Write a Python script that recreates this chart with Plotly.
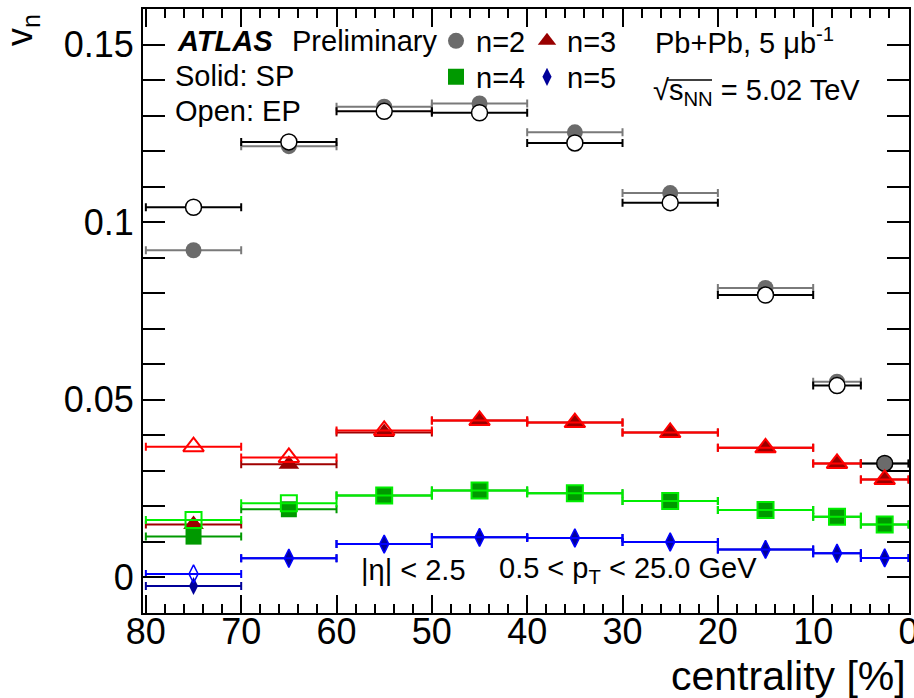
import plotly.graph_objects as go

# Centrality bins (bin centres and half-widths, in %)
centrality = [75, 65, 55, 45, 35, 25, 15, 7.5, 2.5]
bin_half_width = [5, 5, 5, 5, 5, 5, 5, 2.5, 2.5]

# v_n from scalar-product (SP, solid) and event-plane (EP, open) methods
v2_sp = [0.0921, 0.1214, 0.1325, 0.1334, 0.1253, 0.1082, 0.0815, 0.0551, 0.0321]
v2_ep = [0.1042, 0.1226, 0.1312, 0.1308, 0.1223, 0.1055, 0.0795, 0.0540, 0.0321]
v3_sp = [0.0149, 0.0319, 0.0408, 0.0442, 0.0436, 0.0408, 0.0365, 0.0321, 0.0276]
v3_ep = [0.0368, 0.0338, 0.0414, 0.0442, 0.0436, 0.0408, 0.0365, 0.0321, 0.0276]
v4_sp = [0.0115, 0.0192, 0.0231, 0.0245, 0.0237, 0.0215, 0.0190, 0.0171, 0.0149]
v4_ep = [0.0162, 0.0209, 0.0231, 0.0245, 0.0237, 0.0215, 0.0190, 0.0171, 0.0149]
v5_sp = [-0.0024, 0.0054, 0.0094, 0.0113, 0.0111, 0.0100, 0.0079, 0.0068, 0.0055]
v5_ep = [0.0010, 0.0054, 0.0094, 0.0113, 0.0111, 0.0100, 0.0079, 0.0068, 0.0055]

x_ticks = [80, 70, 60, 50, 40, 30, 20, 10, 0]
X_RANGE = [80.3, -0.05]

FONT = "Liberation Sans, Arial, Helvetica, sans-serif"
W, H = 914, 698
L, R, T, B = 143, 5, 9, 85
PW, PH = W - L - R, H - T - B


def px(x):
    return (x - L) / PW


def py(y):
    return (H - B - y) / PH


fig = go.Figure()


def add_series(name, values, symbol, size, fill, line_color, line_width,
               bar_color, legend=None):
    fig.add_trace(go.Scatter(
        x=centrality, y=values, mode="markers", name=name,
        showlegend=legend is not None,
        legend=legend if legend else "legend",
        marker=dict(symbol=symbol, size=size, color=fill,
                    line=dict(color=line_color, width=line_width)),
        error_x=dict(type="data", array=bin_half_width, symmetric=True,
                     color=bar_color, thickness=2, width=4),
        hoverinfo="skip",
    ))


GRAY = "#6b6b6b"
# n = 2
add_series("n=2", v2_sp, "circle", 16, GRAY, GRAY, 0, "#7a7a7a", "legend")
add_series("n=2 EP", v2_ep, "circle", 16,
           ["white"] * 8 + [GRAY], "black", 1.5, "black")
# n = 3
add_series("n=3", v3_sp, "triangle-up", 18, "#990000", "#990000", 0, "#a00000", "legend")
add_series("n=3 EP", v3_ep, "triangle-up-open", 18, "#ff0000", "#ff0000", 2, "#ff0000")
# n = 4
add_series("n=4", v4_sp, "square", 16, "#009900", "#009900", 0, "#009900", "legend2")
add_series("n=4 EP", v4_ep, "square-open", 16, "#00ee00", "#00ee00", 2, "#00ee00")
# n = 5
add_series("n=5", v5_sp, "diamond-tall", 13, "#000099", "#000099", 0, "#000099", "legend2")
add_series("n=5 EP", v5_ep, "diamond-tall-open", 13, "#0000ff", "#0000ff", 1.5, "#0000ff")

# empty trace that ties the label-only x axis to the y axis
fig.add_trace(go.Scatter(x=[], y=[], xaxis="x2", yaxis="y", mode="markers",
                         showlegend=False, hoverinfo="skip"))

tick_font = dict(family=FONT, size=36, color="black")
axis_common = dict(
    ticks="inside", tickwidth=1.5, tickcolor="black",
    showline=True, linecolor="black", linewidth=2, mirror="allticks",
    showgrid=False, zeroline=False, tickfont=tick_font, automargin=False,
)

fig.update_layout(
    xaxis=dict(
        range=X_RANGE, tickmode="array", tickvals=x_ticks, ticklen=18,
        showticklabels=False,
        minor=dict(dtick=2, tick0=0, ticklen=9, tickwidth=1.5,
                   tickcolor="black", ticks="inside"),
        **axis_common,
    ),
    # label-only axis, sitting a few pixels above the frame so the
    # numbers hug the bottom edge
    xaxis2=dict(
        range=X_RANGE, overlaying="x", anchor="free", position=6 / PH,
        side="bottom", tickmode="array", tickvals=x_ticks,
        ticktext=[str(v) for v in x_ticks], ticks="", showline=False,
        showgrid=False, zeroline=False, tickfont=tick_font,
        ticklabeloverflow="allow", automargin=False,
    ),
    yaxis=dict(
        range=[-0.01, 0.16], tickmode="linear", tick0=0, dtick=0.05, ticklen=22,
        minor=dict(dtick=0.01, tick0=0, ticklen=11, tickwidth=1.5,
                   tickcolor="black", ticks="inside"),
        **axis_common,
    ),
)

legend_common = dict(
    orientation="h", xanchor="left", yanchor="middle",
    font=dict(family=FONT, size=29, color="black"),
    bgcolor="rgba(0,0,0,0)", borderwidth=0,
    entrywidth=46, entrywidthmode="pixels", itemwidth=30,
)

ann = []


def text(x, y, s, size=29, xanchor="left", yanchor="middle", angle=0):
    ann.append(dict(x=px(x), y=py(y), xref="paper", yref="paper", text=s,
                    showarrow=False, xanchor=xanchor, yanchor=yanchor,
                    textangle=angle,
                    font=dict(family=FONT, size=size, color="black")))


text(175, 41, "<b><i>ATLAS</i></b>")
text(290, 41, "Preliminary")
text(173, 76, "Solid: SP")
text(173, 111, "Open: EP")
text(653, 41, "Pb+Pb, 5 \u03bcb<sup>-1</sup>")
text(651, 92, "\u221as<sub>NN</sub> = 5.02 TeV")
text(359, 570, "|\u03b7| < 2.5")
text(497, 570, "0.5 < p<sub>T</sub> < 25.0 GeV")
text(908, 676, "centrality [%]", size=41, xanchor="right")
text(22, 30, "v<sub>n</sub>", size=36, xanchor="center", angle=-90)

# overline of the square-root sign in sqrt(s_NN)
shapes = [dict(type="line", xref="paper", yref="paper",
               x0=px(667), x1=px(712), y0=py(80), y1=py(80),
               line=dict(color="black", width=1.5))]

fig.update_layout(
    width=W, height=H,
    margin=dict(l=L, r=R, t=T, b=B, autoexpand=False),
    plot_bgcolor="white", paper_bgcolor="white",
    showlegend=True,
    legend=dict(x=px(436), y=py(41), **legend_common),
    legend2=dict(x=px(436), y=py(77), **legend_common),
    annotations=ann,
    shapes=shapes,
    font=dict(family=FONT),
)

fig.write_html("out.html")
